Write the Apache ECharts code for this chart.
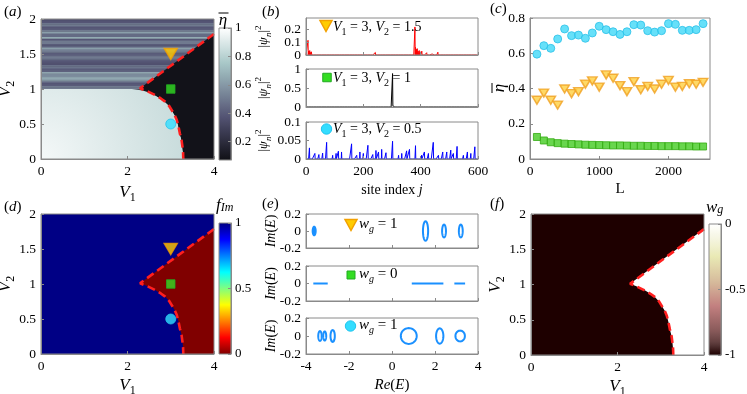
<!DOCTYPE html>
<html><head><meta charset="utf-8">
<script src="https://cdn.jsdelivr.net/npm/echarts@6/dist/echarts.min.js"></script>
<style>html,body{margin:0;padding:0;background:#fff}#c{width:747px;height:394px}</style>
</head><body><div id="c"></div>
<script>
// ================= DATA =================
const phaseTicksV1 = [0, 2, 4];
const phaseTicksV2 = [0, 0.5, 1, 1.5, 2];
// phase boundary (upper straight branch, then lower curved branch)
const boundaryV1 = [4.0, 2.29, 2.45, 2.64, 2.77, 2.87, 2.96, 3.02, 3.09, 3.14, 3.18, 3.21, 3.25, 3.27, 3.285, 3.29];
const boundaryV2 = [1.786, 1.01, 0.97, 0.914, 0.865, 0.82, 0.76, 0.70, 0.63, 0.557, 0.46, 0.367, 0.27, 0.176, 0.09, 0.0];
// edge of the bright (extended) region in (a)
const extEdgeV1 = [0, 0, 2.1, 2.35, 2.55, 2.72, 2.87, 2.96, 3.02, 3.09, 3.14, 3.18, 3.21, 3.25, 3.27, 3.285, 3.29];
const extEdgeV2 = [0, 1, 1, 0.98, 0.94, 0.88, 0.81, 0.76, 0.70, 0.63, 0.557, 0.46, 0.367, 0.27, 0.176, 0.09, 0];
// (a) eta for the striped critical region, V2 from 1 to 2 (bottom -> top)
const etaStripes = [0.50, 0.50, 0.40, 0.38, 0.50, 0.62, 0.65, 0.56, 0.55, 0.64,
                    0.42, 0.40, 0.48, 0.47, 0.36, 0.37, 0.40, 0.48, 0.50, 0.42,
                    0.40, 0.50, 0.52, 0.62, 0.42, 0.40, 0.50, 0.50, 0.38, 0.66,
                    0.45, 0.45, 0.62, 0.50, 0.40, 0.38, 0.50, 0.48, 0.38, 0.36];
const stripeV2Range = [1, 2];
const etaLocalized = 0.08;
const etaExtCorner = 0.97, etaExtEdge = 0.84;
const etaRange = [0.07, 1];
const etaTicks = [0.2, 0.4, 0.6, 0.8, 1];
// (d) and (f) region values
const fImExtended = 1, fImLocalized = 0;
const fImTicks = [0, 0.5, 1];
const wgExtended = -1, wgLocalized = 0;
const wgTicks = [-1, -0.5, 0];
// chosen points
const ptTri = [3, 1.5], ptSq = [3, 1], ptCirc = [3, 0.5];

// (b) wavefunction spikes: [site, |psi|^2]
const siteTicks = [0, 200, 400, 600];
const nSites = 600;
const psiTicksTri = [0, 0.1, 0.2], psiTicksSq = [0, 0.5, 1], psiTicksCirc = [0, 0.05, 0.1];
const spikesTri = [[7,0.115],[9,0.03],[11,0.02],[13,0.035],[16,0.02],[19,0.025],[22,0.012],[26,0.01],[120,0.004],
  [238,0.015],[242,0.02],[246,0.012],[380,0.22],[382,0.06],[385,0.045],[388,0.05],[391,0.03],[395,0.035],
  [399,0.025],[404,0.03],[410,0.015],[421,0.018],[440,0.008],[460,0.022],[466,0.01],[472,0.012],[480,0.008]];
const spikesSq = [[301,0.02],[302,0.88],[303,0.03]];
const spikesCirc = [[12,0.030],[31,0.015],[45,0.012],[58,0.016],[72,0.045],[93,0.010],[105,0.015],[113,0.021],
  [124,0.019],[159,0.041],[177,0.010],[188,0.019],[200,0.015],[216,0.037],[233,0.012],[244,0.023],[253,0.019],
  [264,0.026],[279,0.017],[302,0.048],[323,0.010],[334,0.015],[351,0.022],[361,0.026],[382,0.036],[403,0.010],
  [413,0.019],[427,0.015],[444,0.045],[462,0.010],[477,0.019],[491,0.019],[505,0.024],[514,0.015],[527,0.034],
  [549,0.010],[563,0.019],[575,0.015],[589,0.033]];

// (c) eta-bar vs L
const sizesL = [100,200,300,400,500,600,700,800,900,1000,1100,1200,1300,1400,1500,1600,1700,1800,1900,2000,2100,2200,2300,2400,2500];
const etaCirc = [0.595,0.643,0.628,0.681,0.738,0.700,0.703,0.685,0.715,0.753,0.734,0.722,0.707,0.722,0.762,0.760,0.728,0.720,0.728,0.768,0.764,0.730,0.730,0.734,0.768];
const etaTri = [0.333,0.374,0.333,0.306,0.397,0.371,0.382,0.425,0.443,0.408,0.477,0.458,0.416,0.382,0.439,0.393,0.412,0.397,0.424,0.446,0.408,0.412,0.427,0.424,0.435];
const etaSq = [0.125,0.105,0.095,0.090,0.087,0.085,0.083,0.081,0.080,0.079,0.078,0.077,0.077,0.076,0.075,0.075,0.074,0.074,0.073,0.073,0.073,0.072,0.072,0.071,0.071];
const cTicksX = [0, 1000, 2000], cTicksY = [0, 0.2, 0.4, 0.6, 0.8];

// (e) complex spectra: loops [centerRe, centerIm, halfWidth, halfHeight, filled]
const eTicksX = [-4, -2, 0, 2, 4], eTicksY = [-0.2, 0, 0.2];
const loopsTri = [[-3.62,0,0.07,0.05,1],[1.56,0,0.12,0.115,0],[2.42,0,0.09,0.075,0],[3.2,0,0.09,0.075,0]];
const segsSq = [[-3.66,-2.99],[0.92,2.39],[2.9,3.4]];
const loopsCirc = [[-3.35,0,0.08,0.055,0],[-3.13,0,0.07,0.05,0],[-2.76,0,0.1,0.066,0],[0.78,0,0.37,0.088,0],[2.22,0,0.17,0.085,0],[3.17,0,0.22,0.06,0]];

// ================= HELPERS =================
const SERIF = 'Liberation Serif';
const AXC = '#8a8a8a';
const BONE = [[0,[0,0,0]],[0.375,[0.328,0.328,0.453]],[0.75,[0.656,0.781,0.781]],[1,[1,1,1]]];
const JET = [[0,[0,0,0.52]],[0.125,[0,0,1]],[0.375,[0,1,1]],[0.625,[1,1,0]],[0.875,[1,0,0]],[1,[0.5,0,0]]];
const PINK = [[0,[0.118,0,0]],[0.09,[0.374,0.245,0.245]],[0.1875,[0.54,0.354,0.354]],[0.375,[0.764,0.5,0.5]],[0.5625,[0.842,0.736,0.612]],[0.75,[0.913,0.913,0.707]],[0.875,[0.957,0.957,0.866]],[1,[1,1,1]]];
function lerpMap(stops, t){
  t = Math.max(0, Math.min(1, t));
  for (let i = 0; i < stops.length - 1; i++){
    const a = stops[i][0], ca = stops[i][1], b = stops[i+1][0], cb = stops[i+1][1];
    if (t <= b){ const u = (t - a) / (b - a);
      return 'rgb(' + ca.map((c, j) => Math.round(255 * (c + (cb[j] - c) * u))).join(',') + ')'; }
  }
  return '#fff';
}
const bone = v => lerpMap(BONE, v);
const jetR = v => lerpMap(JET, 1 - v);
const pinkW = v => lerpMap(PINK, v + 1);
const fmt = v => String(+(+v).toFixed(4));

function rich(fs, lh){
  const sub = Math.round(fs * 0.68);
  const L = lh || fs + 6;
  return {
    i:{fontFamily:SERIF, fontStyle:'italic', fontSize:fs, lineHeight:L, verticalAlign:'middle', color:'#000'},
    r:{fontFamily:SERIF, fontSize:fs, lineHeight:L, verticalAlign:'middle', color:'#000'},
    s:{fontFamily:SERIF, fontSize:sub, lineHeight:sub+1, verticalAlign:'bottom', color:'#000'},
    si:{fontFamily:SERIF, fontStyle:'italic', fontSize:sub, lineHeight:sub+1, verticalAlign:'bottom', color:'#000'},
    p:{fontFamily:SERIF, fontSize:sub, lineHeight:sub+1, verticalAlign:'top', color:'#000'}
  };
}

const option = {animation:false, backgroundColor:'#fff', grid:[], xAxis:[], yAxis:[], series:[], graphic:[]};

function mkAxis(gi, o){
  const vals = o.labels || [];
  return {
    gridIndex:gi, type:'value', min:o.min, max:o.max, position:o.position, z:6,
    axisLine:{show:!o.hidden, onZero:false, lineStyle:{color:AXC, width:1}},
    axisTick:{show:!o.hidden, inside:true, length:3, lineStyle:{color:AXC}, customValues:vals},
    axisLabel:{show:!o.hidden && o.showLabels !== false, customValues:vals, color:'#000', fontFamily:SERIF,
      hideOverlap:false, showMinLabel:true, showMaxLabel:true,
      fontSize:o.fontSize || 13.5, margin:o.margin != null ? o.margin : 5, formatter:fmt},
    splitLine:{show:false},
    name:o.name || '', nameLocation:'middle', nameGap:o.nameGap || 20, nameMoveOverlap:false,
    nameTextStyle:{fontFamily:SERIF, fontSize:o.nameSize || 16, color:'#000', rich:rich(o.nameSize || 16)}
  };
}
function addPanel(rect, xo, yo){
  const gi = option.grid.length;
  option.grid.push({left:rect[0], top:rect[1], width:rect[2], height:rect[3], show:true, borderColor:AXC,
    borderWidth:1, backgroundColor:'transparent', z:5, containLabel:false, outerBoundsMode:'none'});
  option.xAxis.push(mkAxis(gi, xo));
  option.yAxis.push(mkAxis(gi, yo));
  return gi;
}
// y tick labels drawn through the axis scale (used where the axis would otherwise drop labels)
function yLabelSeries(gi, xRef, vals, side, fs){
  return {type:'custom', xAxisIndex:gi, yAxisIndex:gi, data:vals.map(v => [xRef, v]), encode:{x:0, y:1},
    silent:true, z:10, clip:false,
    renderItem:(params, api) => {
      const p = api.coord([api.value(0), api.value(1)]);
      return {type:'text', x:p[0] + (side === 'left' ? -5 : 4), y:p[1],
        style:{text:fmt(api.value(1)), fontFamily:SERIF, fontSize:fs, fill:'#000',
          align:side === 'left' ? 'right' : 'left', verticalAlign:'middle'}};
    }};
}
function polySeries(gi, pts, fill, z){
  return {type:'custom', xAxisIndex:gi, yAxisIndex:gi, data:pts, encode:{x:0, y:1}, silent:true, z:z || 1, clip:true,
    renderItem:(params, api) => params.dataIndex !== 0 ? null : {
      type:'polygon', shape:{points:pts.map(p => api.coord(p))},
      style:{fill: typeof fill === 'function' ? fill(api) : fill}}};
}
function cbSeries(gi, vmin, vmax, cmap){
  return {type:'custom', xAxisIndex:gi, yAxisIndex:gi, data:[[0, vmin],[1, vmax]], encode:{x:0, y:1}, silent:true, z:1,
    renderItem:(params, api) => {
      if (params.dataIndex) return null;
      const p0 = api.coord([0, vmax]), p1 = api.coord([1, vmin]);
      const stops = [];
      for (let k = 0; k <= 40; k++){ const t = k / 40; stops.push({offset:t, color:cmap(vmin + (vmax - vmin) * (1 - t))}); }
      return {type:'rect', shape:{x:p0[0], y:p0[1], width:p1[0]-p0[0], height:p1[1]-p0[1]},
        style:{fill:new echarts.graphic.LinearGradient(0, 0, 0, 1, stops)}};
    }};
}
function markerSeries(gi){
  return [
    {type:'scatter', xAxisIndex:gi, yAxisIndex:gi, data:[ptTri], symbol:'triangle', symbolRotate:180, symbolSize:[13,11],
      itemStyle:{color:'#ffcc00', borderColor:'#f2a000', borderWidth:1.5}, z:4, silent:true},
    {type:'scatter', xAxisIndex:gi, yAxisIndex:gi, data:[ptSq], symbol:'rect', symbolSize:8.5,
      itemStyle:{color:'#33dd22', borderColor:'#22aa22', borderWidth:1}, z:4, silent:true},
    {type:'scatter', xAxisIndex:gi, yAxisIndex:gi, data:[ptCirc], symbol:'circle', symbolSize:10,
      itemStyle:{color:'#33ddff', borderColor:'#22c4ee', borderWidth:1}, z:4, silent:true}
  ];
}
const boundaryPts = boundaryV1.map((v, i) => [v, boundaryV2[i]]);
const localizedPoly = boundaryPts.concat([[4, 0]]);
const fullPoly = [[0,0],[4,0],[4,2],[0,2]];
function boundarySeries(gi){
  return {type:'line', xAxisIndex:gi, yAxisIndex:gi, data:boundaryPts, symbol:'none', silent:true, z:3,
    lineStyle:{color:'#ff1f1f', width:2.6, type:[8,4.5]}};
}
const V1name = '{i|V}{s|1}', V2name = '{i|V}{s|2}';

// ================= (a) =================
const ga = addPanel([41,19,173,140], {min:0, max:4, labels:phaseTicksV1, name:V1name, nameGap:22, nameSize:17},
                                     {min:0, max:2, labels:phaseTicksV2, name:V2name, nameGap:24, nameSize:17});
option.series.push(polySeries(ga, fullPoly, bone(etaLocalized)));
const nStr = etaStripes.length, dV = (stripeV2Range[1] - stripeV2Range[0]) / nStr;
option.series.push({type:'custom', xAxisIndex:ga, yAxisIndex:ga, silent:true, z:1, clip:true,
  data:etaStripes.map((e, k) => [stripeV2Range[0] + k * dV, stripeV2Range[0] + (k + 1) * dV, e]),
  encode:{y:[0,1]},
  renderItem:(params, api) => {
    const lo = api.value(0), hi = api.value(1), e = api.value(2);
    const p1 = api.coord([0, hi]), p2 = api.coord([4, lo]);
    return {type:'rect', shape:{x:p1[0], y:p1[1], width:p2[0]-p1[0], height:p2[1]-p1[1]+0.6}, style:{fill:bone(e)}};
  }});
const extPoly = extEdgeV1.map((v, i) => [v, extEdgeV2[i]]);
option.series.push(polySeries(ga, extPoly, api => {
  const c = api.coord([0, 0]), e = api.coord([3.3, 0]);
  return new echarts.graphic.RadialGradient(c[0], c[1], (e[0]-c[0]) * 1.05,
    [{offset:0, color:bone(etaExtCorner)}, {offset:1, color:bone(etaExtEdge)}], true);
}));
option.series.push(polySeries(ga, localizedPoly, bone(etaLocalized)));
option.series.push(boundarySeries(ga));
option.series.push(...markerSeries(ga));
const gaCb = addPanel([219,28,12,132], {min:0, max:1, hidden:true},
  {min:etaRange[0], max:etaRange[1], labels:etaTicks, position:'right', margin:4, fontSize:13});
option.series.push(cbSeries(gaCb, etaRange[0], etaRange[1], bone));

// ================= (b) =================
function profile(spikes){
  const arr = [];
  for (let n = 0; n <= nSites; n++) arr.push([n, 0]);
  spikes.forEach(([n, v]) => { arr[n] = [n, v]; });
  return arr;
}
const psiName = '{r||}{i|ψ}{si|n}{r||}{p|2}';
const gb1 = addPanel([306,18,172,37], {min:0, max:nSites, labels:siteTicks, showLabels:false},
  {min:0, max:0.29, labels:psiTicksTri, showLabels:false, name:psiName, nameGap:33, nameSize:12.5});
const gb2 = addPanel([306,69,172,38], {min:0, max:nSites, labels:siteTicks, showLabels:false},
  {min:0, max:1, labels:psiTicksSq, showLabels:false, name:psiName, nameGap:33, nameSize:12.5});
const gb3 = addPanel([306,122,172,37], {min:0, max:nSites, labels:siteTicks, name:'{r|site index }{i|j}', nameGap:21, nameSize:14},
  {min:0, max:0.1, labels:psiTicksCirc, showLabels:false, name:psiName, nameGap:33, nameSize:12.5});
option.series.push(yLabelSeries(gb1, 0, psiTicksTri, 'left', 13.5));
option.series.push(yLabelSeries(gb2, 0, psiTicksSq, 'left', 13.5));
option.series.push(yLabelSeries(gb3, 0, psiTicksCirc, 'left', 13.5));
[[gb1, spikesTri, '#ff0000'], [gb2, spikesSq, '#000000'], [gb3, spikesCirc, '#0000ff']].forEach(([g, sp, col]) => {
  option.series.push({type:'line', xAxisIndex:g, yAxisIndex:g, data:profile(sp), symbol:'none', silent:true, z:2,
    lineStyle:{color:col, width:1}});
});

// ================= (c) =================
const gc = addPanel([530,18,180,141], {min:0, max:2600, labels:cTicksX, name:'{r|L}', nameGap:20, nameSize:15},
  {min:0, max:0.8, labels:cTicksY});
option.series.push(
  {type:'scatter', xAxisIndex:gc, yAxisIndex:gc, data:sizesL.map((l, i) => [l, etaCirc[i]]), symbol:'circle', symbolSize:8,
    itemStyle:{color:'#40d8f8', borderColor:'#2cc0e8', borderWidth:1}, silent:true},
  {type:'scatter', xAxisIndex:gc, yAxisIndex:gc, data:sizesL.map((l, i) => [l, etaTri[i]]), symbol:'triangle', symbolRotate:180, symbolSize:[9.5,8],
    itemStyle:{color:'#ffd040', borderColor:'#f0a020', borderWidth:1.5}, silent:true},
  {type:'scatter', xAxisIndex:gc, yAxisIndex:gc, data:sizesL.map((l, i) => [l, etaSq[i]]), symbol:'rect', symbolSize:7,
    itemStyle:{color:'#44cc22', borderColor:'#33aa11', borderWidth:1}, silent:true});

// ================= (d) =================
const gd = addPanel([41,214,173,140], {min:0, max:4, labels:phaseTicksV1, name:V1name, nameGap:20, nameSize:17},
                                      {min:0, max:2, labels:phaseTicksV2, name:V2name, nameGap:24, nameSize:17});
option.series.push(polySeries(gd, fullPoly, jetR(fImExtended)));
option.series.push(polySeries(gd, localizedPoly, jetR(fImLocalized)));
option.series.push(boundarySeries(gd));
option.series.push(...markerSeries(gd));
const gdCb = addPanel([219,223,12,131], {min:0, max:1, hidden:true},
  {min:0, max:1, labels:fImTicks, showLabels:false, position:'right'});
option.series.push(cbSeries(gdCb, 0, 1, jetR));
option.series.push(yLabelSeries(gdCb, 1, fImTicks, 'right', 13));

// ================= (e) =================
const imName = '{i|Im}{r|(}{i|E}{r|)}';
const ge1 = addPanel([306,214,172,34], {min:-4, max:4, labels:eTicksX, showLabels:false},
  {min:-0.2, max:0.2, labels:eTicksY, name:imName, nameGap:25, nameSize:14});
const ge2 = addPanel([306,266,172,35], {min:-4, max:4, labels:eTicksX, showLabels:false},
  {min:-0.2, max:0.2, labels:eTicksY, name:imName, nameGap:25, nameSize:14});
const ge3 = addPanel([306,318,172,36], {min:-4, max:4, labels:eTicksX, name:'{i|Re}{r|(}{i|E}{r|)}', nameGap:21, nameSize:15},
  {min:-0.2, max:0.2, labels:eTicksY, name:imName, nameGap:25, nameSize:14});
const EC = '#1a90ff';
function loopSeries(g, loops){
  return {type:'custom', xAxisIndex:g, yAxisIndex:g, data:loops, encode:{x:0, y:1}, silent:true, z:2,
    renderItem:(params, api) => {
      const c = api.coord([api.value(0), api.value(1)]);
      const s = api.size([api.value(2), api.value(3)]);
      const pts = [];
      for (let k = 0; k < 48; k++){ const a = 2 * Math.PI * k / 48; pts.push([c[0] + s[0] * Math.cos(a), c[1] + s[1] * Math.sin(a)]); }
      return {type:'polygon', shape:{points:pts}, style:{fill: api.value(4) ? EC : 'none', stroke:EC, lineWidth:2}};
    }};
}
option.series.push(loopSeries(ge1, loopsTri));
option.series.push({type:'custom', xAxisIndex:ge2, yAxisIndex:ge2, data:segsSq, encode:{x:[0,1]}, silent:true, z:2,
  renderItem:(params, api) => {
    const p0 = api.coord([api.value(0), 0]), p1 = api.coord([api.value(1), 0]);
    return {type:'line', shape:{x1:p0[0], y1:p0[1], x2:p1[0], y2:p1[1]}, style:{stroke:EC, lineWidth:2}};
  }});
option.series.push(loopSeries(ge3, loopsCirc));

// ================= (f) =================
const gf = addPanel([531,214,173,141], {min:0, max:4, labels:phaseTicksV1, name:V1name, nameGap:20, nameSize:17},
                                       {min:0, max:2, labels:phaseTicksV2, name:V2name, nameGap:24, nameSize:17});
option.series.push(polySeries(gf, fullPoly, pinkW(wgExtended)));
option.series.push(polySeries(gf, localizedPoly, pinkW(wgLocalized)));
option.series.push(boundarySeries(gf));
const gfCb = addPanel([709,224,12,131], {min:0, max:1, hidden:true},
  {min:-1, max:0, labels:wgTicks, showLabels:false, position:'right'});
option.series.push(cbSeries(gfCb, -1, 0, pinkW));
option.series.push(yLabelSeries(gfCb, 1, wgTicks, 'right', 13));

// ================= ANNOTATIONS =================
function txt(x, y, text, fs, align, lh){
  return {type:'text', x:x, y:y, z:100, silent:true,
    style:{text:text, rich:rich(fs, lh), fontFamily:SERIF, fontSize:fs, fill:'#000', align:align || 'left', verticalAlign:'middle'}};
}
function tri(cx, cy, w, h){
  return {type:'polygon', z:100, silent:true, shape:{points:[[cx-w/2, cy-h/2],[cx+w/2, cy-h/2],[cx, cy+h/2]]},
    style:{fill:'#ffcc00', stroke:'#f2a000', lineWidth:1.5}};
}
function sq(cx, cy, s){
  return {type:'rect', z:100, silent:true, shape:{x:cx-s/2, y:cy-s/2, width:s, height:s}, style:{fill:'#33dd22', stroke:'#22aa22', lineWidth:1}};
}
function circ(cx, cy, r){
  return {type:'circle', z:100, silent:true, shape:{cx:cx, cy:cy, r:r}, style:{fill:'#33ddff', stroke:'#22c4ee', lineWidth:1}};
}
option.graphic = [
  txt(4, 12, '{r|(}{i|a}{r|)}', 15), txt(262, 12, '{r|(}{i|b}{r|)}', 15), txt(490, 9, '{r|(}{i|c}{r|)}', 15),
  txt(4, 207, '{r|(}{i|d}{r|)}', 15), txt(262, 204, '{r|(}{i|e}{r|)}', 15), txt(490, 204, '{r|(}{i|f}{r|)}', 15),
  // colorbar titles
  txt(223, 21, '{i|η}', 17, 'center', 17),
  {type:'line', z:100, silent:true, shape:{x1:218.5, y1:13, x2:228.5, y2:13}, style:{stroke:'#000', lineWidth:1}},
  txt(216, 206, '{i|f}{si|Im}', 17, 'left', 15),
  txt(706, 208, '{i|w}{si|g}', 17, 'left', 15),
  // (c) y label
  {type:'group', x:500, y:88, rotation:Math.PI/2, silent:true, z:100, children:[
    {type:'text', style:{text:'η', fontFamily:SERIF, fontStyle:'italic', fontSize:17, fill:'#000', align:'center', verticalAlign:'middle'}},
    {type:'line', shape:{x1:-5, y1:-8, x2:5, y2:-8}, style:{stroke:'#000', lineWidth:1}}
  ]},
  // (b) legends
  tri(326, 26, 12, 11), txt(333, 27, '{i|V}{s|1}{r| = 3, }{i|V}{s|2}{r| = 1.5}', 14),
  sq(327, 77.5, 8.5), txt(333, 78, '{i|V}{s|1}{r| = 3, }{i|V}{s|2}{r| = 1}', 14),
  circ(326.5, 129, 5.2), txt(333, 129, '{i|V}{s|1}{r| = 3, }{i|V}{s|2}{r| = 0.5}', 14),
  // (e) legends
  tri(351, 225, 12, 11), txt(359, 224, '{i|w}{si|g}{r| = 1}', 15),
  sq(351, 275, 8), txt(359, 274, '{i|w}{si|g}{r| = 0}', 15),
  circ(350.5, 326, 5.2), txt(359, 325, '{i|w}{si|g}{r| = 1}', 15)
];

const chart = echarts.init(document.getElementById('c'), null, {renderer:'canvas'});
chart.setOption(option);
</script>
</body></html>
